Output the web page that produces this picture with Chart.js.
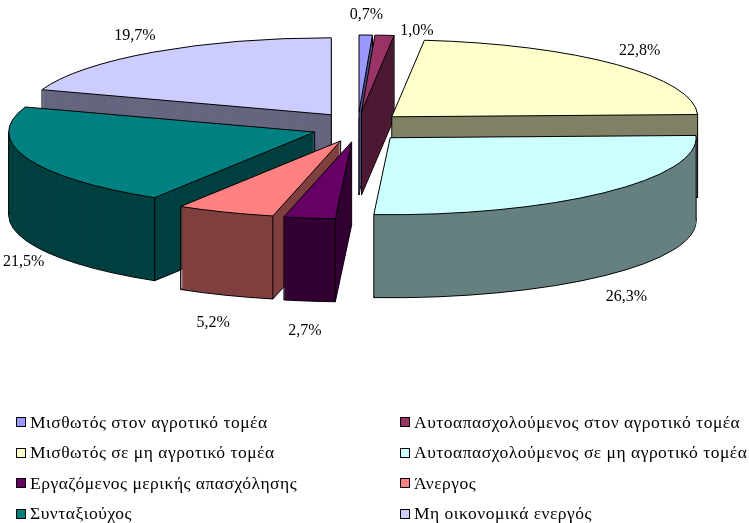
<!DOCTYPE html>
<html>
<head>
<meta charset="utf-8">
<script src="https://cdn.jsdelivr.net/npm/chart.js@4.4.1/dist/chart.umd.min.js"></script>
<style>
  html, body { margin: 0; padding: 0; background: #ffffff; }
  #wrap { position: relative; width: 749px; height: 523px; overflow: hidden; background: #fff; }
  #c { position: absolute; left: 0; top: 0; }
  #legend { position: absolute; left: 0; top: 0; width: 749px; height: 523px; pointer-events: none;
            font-family: "Liberation Serif", "Times New Roman", serif; font-size: 17.5px; letter-spacing: 0.5px; color: #000; }
  .item { position: absolute; display: flex; align-items: center; white-space: nowrap; height: 20px; }
  .sw { width: 8px; height: 8px; border: 1px solid #000; margin-right: 4px; flex: none; }
</style>
</head>
<body>
<div id="wrap">
  <canvas id="c" width="749" height="400"></canvas>
  <div id="legend"></div>
</div>
<script>
// ---- data ----
const categories = [
  'Μισθωτός στον αγροτικό τομέα',
  'Αυτοαπασχολούμενος στον αγροτικό τομέα',
  'Μισθωτός σε μη αγροτικό τομέα',
  'Αυτοαπασχολούμενος σε μη αγροτικό τομέα',
  'Εργαζόμενος μερικής απασχόλησης',
  'Άνεργος',
  'Συνταξιούχος',
  'Μη οικονομικά ενεργός'
];
const shares = [0.7, 1.0, 22.8, 26.3, 2.7, 5.2, 21.5, 19.7];
const valueLabels = ['0,7%', '1,0%', '22,8%', '26,3%', '2,7%', '5,2%', '21,5%', '19,7%'];
const topColors = ['#9999FF', '#993366', '#FFFFCC', '#CCFFFF', '#660066', '#FF8080', '#008080', '#CCCCFF'];
const sideColors = ['#4D4D80', '#4D1A33', '#808066', '#668080', '#330033', '#804040', '#004040', '#666680'];

// ---- view settings (layout / style) ----
const view = { cx: 358, cy: 127, r: 306, k: 0.2516, depth: 83, explodeX: 46, explodeY: 15,
               labelFont: '16px "Liberation Serif", serif', labelDX: 32, labelBackDY: 20, labelFrontDY: 30 };

const pie3d = {
  id: 'pie3d',
  afterLayout(chart) {
    const r = view.r + 0.5;
    chart.chartArea = { left: view.cx - r, top: view.cy - r, right: view.cx + r, bottom: view.cy + r,
                        width: 2 * r, height: 2 * r };
  },
  beforeDatasetsDraw(chart) {
    const ctx = chart.ctx;
    const arcs = chart.getDatasetMeta(0).data;
    const nativeStroke = CanvasRenderingContext2D.prototype.stroke;
    ctx.stroke = function () { this.save(); this.setTransform(1, 0, 0, 1, 0, 0); nativeStroke.call(this); this.restore(); };
    const mid = el => (el.startAngle + el.endAngle) / 2;
    const order = arcs.map((_, i) => i).sort((a, b) => Math.sin(mid(arcs[a])) - Math.sin(mid(arcs[b])));
    const k = view.k, D = view.depth;
    ctx.save();
    for (const i of order) {
      const el = arcs[i];
      const h = mid(el);
      const ex = view.explodeX * Math.cos(h), ey = view.explodeY * Math.sin(h);
      const cy = el.y, R = el.outerRadius;
      const xf = dy => ctx.setTransform(1, 0, 0, k, ex, cy * (1 - k) + ey + dy);
      const orig = el.options;
      for (let d = D; d >= 1; d--) {
        xf(d);
        el.options = Object.assign({}, orig, { backgroundColor: sideColors[i], borderWidth: d === D ? 1 : 0 });
        el.draw(ctx);
      }
      // vertical edges of the visible side faces
      ctx.setTransform(1, 0, 0, 1, 0, 0);
      const s0 = el.startAngle, e0 = el.endAngle;
      const startFace = Math.cos(s0) < 0, endFace = Math.cos(e0) > 0;
      const pts = [];
      if (startFace || Math.sin(s0) > 0) pts.push([el.x + R * Math.cos(s0), el.y + R * Math.sin(s0)]);
      if (endFace || Math.sin(e0) > 0) pts.push([el.x + R * Math.cos(e0), el.y + R * Math.sin(e0)]);
      if (startFace || endFace) pts.push([el.x, el.y]);
      for (const a of [0, Math.PI, 2 * Math.PI]) if (a > s0 && a < e0) pts.push([el.x + R * Math.cos(a), el.y + R * Math.sin(a)]);
      ctx.strokeStyle = '#000'; ctx.lineWidth = 1;
      ctx.beginPath();
      for (const [px, py] of pts) {
        const sx = px + ex, sy = cy + (py - cy) * k + ey;
        ctx.moveTo(sx, sy); ctx.lineTo(sx, sy + D);
      }
      ctx.stroke();
      // top face
      xf(0);
      el.options = orig;
      el.draw(ctx);
    }
    ctx.restore();
    delete ctx.stroke;

    // value labels
    ctx.save();
    ctx.font = view.labelFont;
    ctx.fillStyle = '#000';
    ctx.textAlign = 'center';
    ctx.textBaseline = 'middle';
    const placed = [];
    arcs.forEach((el, i) => {
      const h = mid(el), c = Math.cos(h), s = Math.sin(h);
      const R = el.outerRadius;
      let x = el.x + view.explodeX * c + R * c + view.labelDX * c;
      let y = el.y + view.explodeY * s + R * k * s + (s > 0 ? view.labelFrontDY * s + D : view.labelBackDY * s);
      const w = ctx.measureText(valueLabels[i]).width, hgt = 16;
      if (x < w / 2 + 3) { y += (w / 2 + 3 - x) * 0.4; x = w / 2 + 3; }
      x = Math.min(x, chart.width - w / 2 - 3);
      const dir = c >= 0 ? 1 : -1;
      let moved = true;
      while (moved) {
        moved = false;
        for (const b of placed) {
          if (Math.abs(b.x - x) < (b.w + w) / 2 + 16 && Math.abs(b.y - y) < hgt) { x += dir * 2; y += 1; moved = true; }
        }
      }
      placed.push({ x, y, w });
      ctx.fillText(valueLabels[i], x, y);
    });
    ctx.restore();
    return false;
  }
};

new Chart(document.getElementById('c'), {
  type: 'pie',
  data: {
    labels: categories,
    datasets: [{ data: shares, backgroundColor: topColors, borderColor: '#000', borderWidth: 1,
                 borderJoinStyle: 'round', offset: 0, clip: false }]
  },
  options: {
    responsive: false,
    animation: false,
    events: [],
    plugins: { legend: { display: false }, tooltip: { enabled: false } }
  },
  plugins: [pie3d]
});

// ---- HTML legend (2 columns, row-major) ----
const legend = document.getElementById('legend');
categories.forEach((name, i) => {
  const col = i % 2, row = Math.floor(i / 2);
  const it = document.createElement('div');
  it.className = 'item';
  it.style.left = (col ? 400 : 16) + 'px';
  it.style.top = (412 + row * 30.6) + 'px';
  const sw = document.createElement('span');
  sw.className = 'sw';
  sw.style.background = topColors[i];
  const tx = document.createElement('span');
  tx.textContent = name;
  it.appendChild(sw); it.appendChild(tx);
  legend.appendChild(it);
});
</script>
</body>
</html>
